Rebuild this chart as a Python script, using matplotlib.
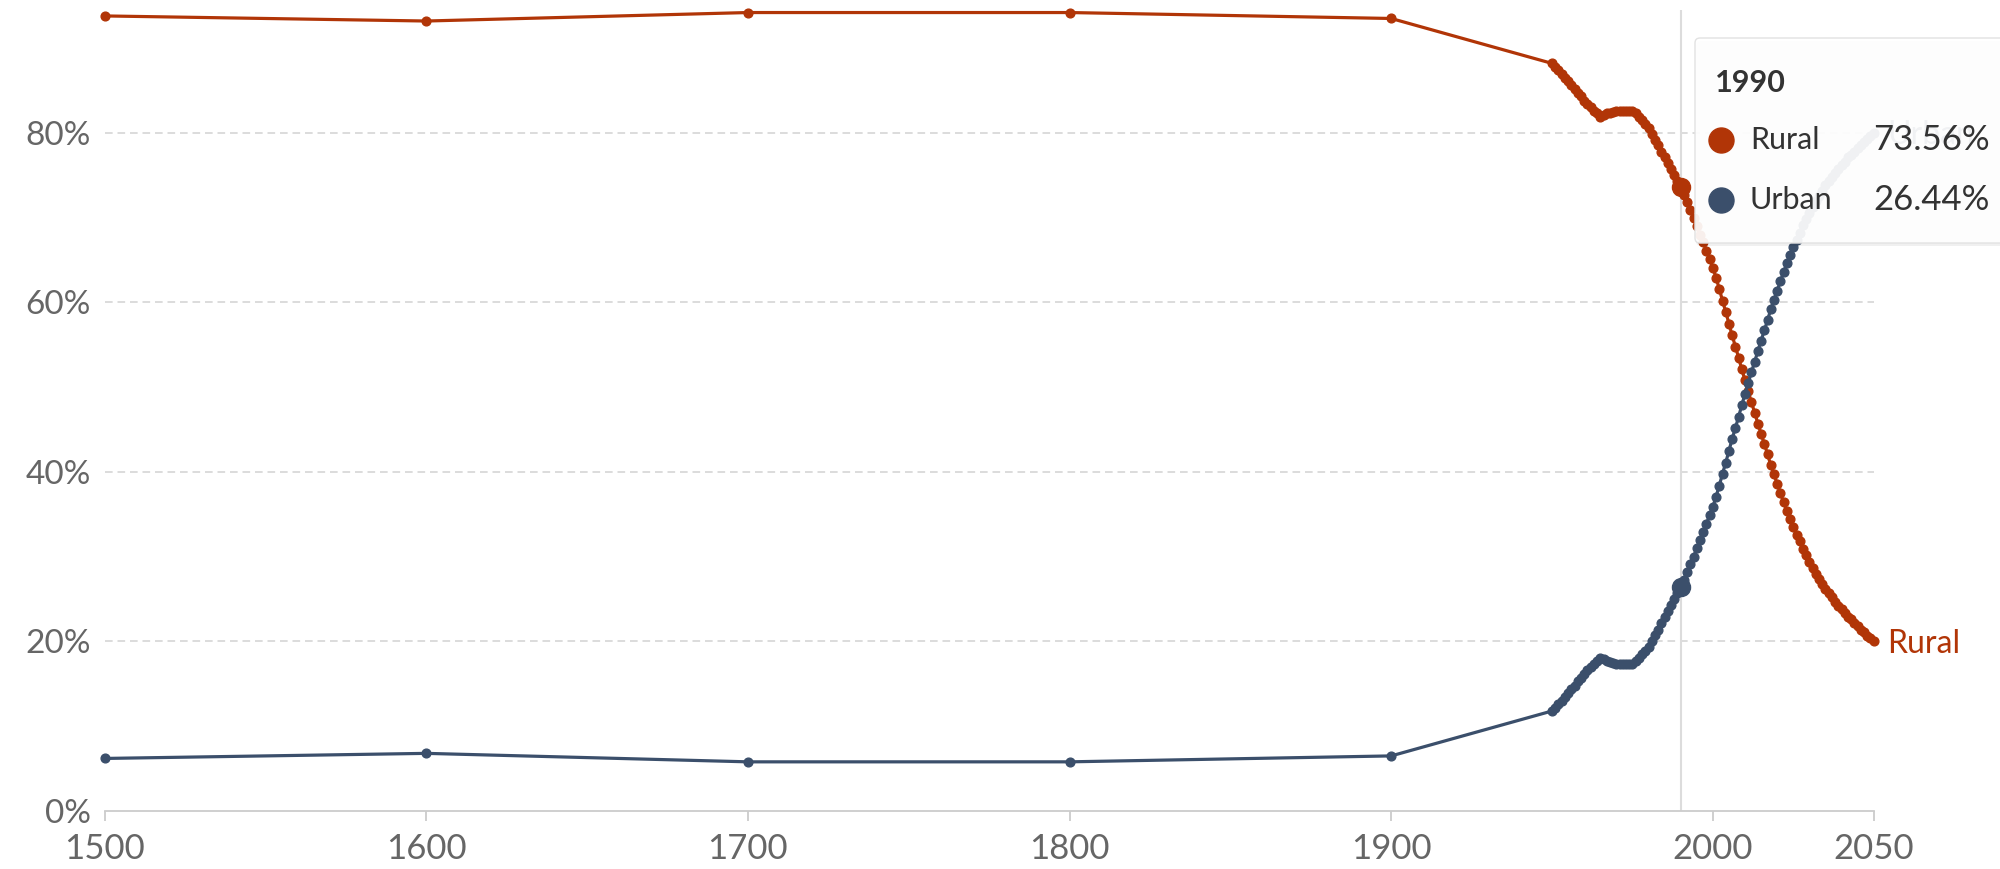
import matplotlib
matplotlib.use('Agg')
import matplotlib.pyplot as plt
from matplotlib.patches import FancyBboxPatch
from matplotlib.lines import Line2D
from matplotlib.transforms import IdentityTransform

plt.rcParams['font.family'] = ['Lato', 'DejaVu Sans']
plt.rcParams['lines.scale_dashes'] = False

# ---------------- data ----------------
years_early = [1500, 1600, 1700, 1800, 1900]
rural_early = [93.8, 93.2, 94.2, 94.2, 93.5]
urban_early = [6.2, 6.8, 5.8, 5.8, 6.5]

years_modern = list(range(1950, 2051))
urban_modern = [
    11.8, 12.2, 12.6, 13.0, 13.5, 13.9, 14.4, 14.8, 15.3, 15.7,   # 1950-1959
    16.2, 16.6, 17.0, 17.4, 17.7, 18.1, 17.9, 17.7, 17.6, 17.5,   # 1960-1969
    17.4, 17.4, 17.4, 17.4, 17.4, 17.4, 17.7, 18.1, 18.5, 18.9,   # 1970-1979
    19.4, 20.1, 20.8, 21.4, 22.2, 22.9, 23.6, 24.3, 25.0, 25.7,   # 1980-1989
    26.44, 27.3, 28.2, 29.1, 30.0, 31.0, 32.0, 32.9, 33.9, 34.9,  # 1990-1999
    35.9, 37.1, 38.4, 39.8, 41.1, 42.5, 43.9, 45.2, 46.5, 47.9,   # 2000-2009
    49.2, 50.5, 51.8, 53.0, 54.3, 55.5, 56.7, 57.9, 59.2, 60.3,   # 2010-2019
    61.4, 62.5, 63.6, 64.6, 65.6, 66.5, 67.4, 68.2, 69.1, 69.8,   # 2020-2029
    70.6, 71.3, 72.0, 72.6, 73.2, 73.8, 74.3, 74.8, 75.3, 75.8,   # 2030-2039
    76.2, 76.6, 77.1, 77.4, 77.8, 78.2, 78.6, 78.9, 79.3, 79.6,   # 2040-2049
    80.0,                                                         # 2050
]
rural_modern = [
    88.2, 87.8, 87.4, 87.0, 86.5, 86.1, 85.6, 85.2, 84.7, 84.3,   # 1950-1959
    83.8, 83.4, 83.0, 82.6, 82.3, 81.9, 82.1, 82.3, 82.4, 82.5,   # 1960-1969
    82.6, 82.6, 82.6, 82.6, 82.6, 82.6, 82.3, 81.9, 81.5, 81.1,   # 1970-1979
    80.6, 79.9, 79.2, 78.6, 77.8, 77.1, 76.4, 75.7, 75.0, 74.3,   # 1980-1989
    73.56, 72.7, 71.8, 70.9, 70.0, 69.0, 68.0, 67.1, 66.1, 65.1,  # 1990-1999
    64.1, 62.9, 61.6, 60.2, 58.9, 57.5, 56.1, 54.8, 53.5, 52.1,   # 2000-2009
    50.8, 49.5, 48.2, 47.0, 45.7, 44.5, 43.3, 42.1, 40.8, 39.7,   # 2010-2019
    38.6, 37.5, 36.4, 35.4, 34.4, 33.5, 32.6, 31.8, 30.9, 30.2,   # 2020-2029
    29.4, 28.7, 28.0, 27.4, 26.8, 26.2, 25.7, 25.2, 24.7, 24.2,   # 2030-2039
    23.8, 23.4, 22.9, 22.6, 22.2, 21.8, 21.4, 21.1, 20.7, 20.4,   # 2040-2049
    20.0,                                                         # 2050
]

years = years_early + years_modern
rural = rural_early + rural_modern
urban = urban_early + urban_modern

highlight_year = 1990
highlight_rural = 73.56
highlight_urban = 26.44

x_ticks = [1500, 1600, 1700, 1800, 1900, 2000, 2050]
y_ticks = [0, 20, 40, 60, 80]
y_tick_labels = ['0%', '20%', '40%', '60%', '80%']

RURAL = '#B13507'
URBAN = '#3B4F6B'
GREY_TXT = '#666666'

# ---------------- figure ----------------
W, H = 2000, 869
fig = plt.figure(figsize=(W / 100, H / 100), dpi=100)
ax = fig.add_axes([104.6 / W, (H - 811) / H, (1873.7 - 104.6) / W, (811 - 10) / H])
ax.set_xlim(1500, 2050)
ax.set_ylim(0, 94.5)

for yv in y_ticks[1:]:
    ax.axhline(yv, color='#d9d9d9', lw=1.3, ls=(0, (5.5, 3.5)), zorder=0)

ax.axvline(highlight_year, color='#dcdcdc', lw=1.5, zorder=1)

ax.plot(years, rural, color=RURAL, lw=2.3, marker='o', ms=6.3, zorder=3, clip_on=False)
ax.plot(years, urban, color=URBAN, lw=2.3, marker='o', ms=6.3, zorder=3, clip_on=False)
ax.plot([highlight_year], [highlight_rural], 'o', color=RURAL, ms=13, zorder=4)
ax.plot([highlight_year], [highlight_urban], 'o', color=URBAN, ms=13, zorder=4)

ax.annotate('Rural', xy=(years[-1], rural[-1]), xytext=(10, -8), textcoords='offset points',
            color=RURAL, fontsize=23, va='baseline', ha='left', annotation_clip=False)
ax.annotate('Urban', xy=(years[-1], urban[-1]), xytext=(10, -8), textcoords='offset points',
            color=URBAN, fontsize=23, va='baseline', ha='left', annotation_clip=False)

for s in ['top', 'right', 'left']:
    ax.spines[s].set_visible(False)
ax.spines['bottom'].set_color('#cccccc')
ax.spines['bottom'].set_linewidth(1.3)

ax.set_xticks(x_ticks)
ax.set_xticklabels([str(x) for x in x_ticks])
ax.set_yticks(y_ticks)
ax.set_yticklabels(y_tick_labels)
ax.tick_params(axis='x', length=7, width=1.3, color='#cccccc', labelsize=25,
               labelcolor=GREY_TXT, pad=9)
ax.tick_params(axis='y', length=0, labelsize=24, labelcolor=GREY_TXT, pad=10)

# ---------------- tooltip ----------------
idt = IdentityTransform()
x0, x1 = 1695, 2030
ytop, ybot = H - 38, H - 243
shadow = FancyBboxPatch((x0 + 1, ybot - 3), x1 - x0, ytop - ybot,
                        boxstyle='round,pad=0,rounding_size=5',
                        transform=idt, facecolor='#000000', alpha=0.06,
                        edgecolor='none', zorder=5)
fig.add_artist(shadow)
box = FancyBboxPatch((x0, ybot), x1 - x0, ytop - ybot,
                     boxstyle='round,pad=0,rounding_size=5',
                     transform=idt, facecolor=(1, 1, 1, 0.93),
                     edgecolor='#e2e2e2', lw=1.0, zorder=6)
fig.add_artist(box)

fig.text(1715, H - 92, str(highlight_year), transform=idt, fontsize=22,
         fontweight='bold', color='#333333', ha='left', va='baseline', zorder=7)

rows = [('Rural', highlight_rural, RURAL, H - 140),
        ('Urban', highlight_urban, URBAN, H - 200)]
for name, val, col, yc in rows:
    fig.add_artist(Line2D([1721], [yc], marker='o', ms=18, color=col,
                          transform=idt, zorder=7))
    fig.text(1750, yc, name, transform=idt, fontsize=22, color='#333333',
             ha='left', va='center', zorder=7)
    fig.text(1990, yc, f'{val:.2f}%', transform=idt, fontsize=25, color='#333333',
             ha='right', va='center', zorder=7)

fig.savefig('out.png', dpi=100)
